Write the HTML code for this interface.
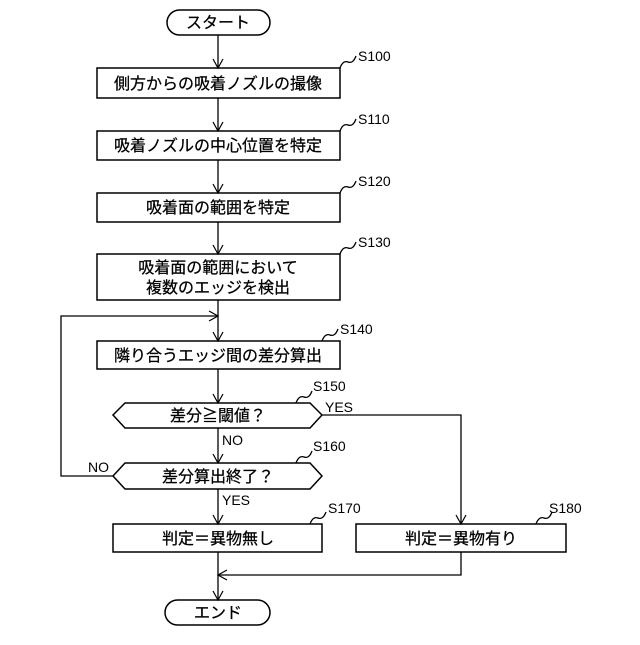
<!DOCTYPE html><html><head><meta charset="utf-8"><style>body{margin:0;background:#fff}svg text{font-family:"Liberation Sans","Noto Sans CJK JP",sans-serif;fill:#000}</style></head><body>
<svg width="640" height="640" viewBox="0 0 640 640" xmlns="http://www.w3.org/2000/svg">
<defs><marker id="a" markerWidth="12" markerHeight="12" refX="10" refY="6" orient="auto" markerUnits="userSpaceOnUse"><path d="M1,1 L10,6 L1,11" fill="none" stroke="#000" stroke-width="1.2"/></marker></defs>
<g fill="none" stroke="#000" stroke-width="1.5">
<rect x="167" y="10" width="103" height="25" rx="12.5"/>
<rect x="97" y="68" width="243" height="30"/>
<rect x="97" y="131" width="243" height="29"/>
<rect x="97" y="193" width="243" height="29"/>
<rect x="97" y="254" width="243" height="46"/>
<rect x="97" y="341" width="243" height="28"/>
<path d="M125,403 L310,403 L322,415 L310,428 L125,428 L113,415 Z"/>
<path d="M125,463 L310,463 L322,476 L310,489 L125,489 L113,476 Z"/>
<rect x="113" y="524" width="209" height="28"/>
<rect x="356" y="524" width="210" height="28"/>
<rect x="165" y="600" width="105" height="25" rx="12.5"/>
</g>
<g stroke="#000" stroke-width="1.3" fill="none">
<line x1="218" y1="35" x2="218" y2="68" marker-end="url(#a)"/>
<line x1="218" y1="98" x2="218" y2="131" marker-end="url(#a)"/>
<line x1="218" y1="160" x2="218" y2="193" marker-end="url(#a)"/>
<line x1="218" y1="222" x2="218" y2="254" marker-end="url(#a)"/>
<line x1="218" y1="300" x2="218" y2="341" marker-end="url(#a)"/>
<line x1="218" y1="369" x2="218" y2="403" marker-end="url(#a)"/>
<line x1="218" y1="428" x2="218" y2="463" marker-end="url(#a)"/>
<line x1="218" y1="489" x2="218" y2="524" marker-end="url(#a)"/>
<line x1="218" y1="552" x2="218" y2="600" marker-end="url(#a)"/>
<path d="M113,476 L61,476 L61,316 L218,316" marker-end="url(#a)"/>
<path d="M322,415 L461,415 L461,524" marker-end="url(#a)"/>
<path d="M461,552 L461,575 L218,575" marker-end="url(#a)"/>
<path d="M340,68 q3,-8 8,-6 t8,-6"/>
<path d="M340,131 q3,-8 8,-6 t8,-6"/>
<path d="M340,193 q3,-8 8,-6 t8,-6"/>
<path d="M340,254 q3,-8 8,-6 t8,-6"/>
<path d="M322,341 q3,-8 8,-6 t8,-6"/>
<path d="M296,403 q3,-8 8,-6 t8,-6"/>
<path d="M296,463 q3,-8 8,-6 t8,-6"/>
<path d="M310,524 q3,-8 8,-6 t8,-6"/>
<path d="M536,524 q3,-8 8,-6 t8,-6"/>
</g>
<g font-size="16" text-anchor="middle" stroke="#000" stroke-width="0.25">
<text x="218" y="28">スタート</text>
<text x="218" y="89">側方からの吸着ノズルの撮像</text>
<text x="218" y="151">吸着ノズルの中心位置を特定</text>
<text x="218" y="213">吸着面の範囲を特定</text>
<text x="218" y="273">吸着面の範囲において</text>
<text x="218" y="293">複数のエッジを検出</text>
<text x="218" y="361">隣り合うエッジ間の差分算出</text>
<text x="218" y="421">差分≧閾値？</text>
<text x="218" y="482">差分算出終了？</text>
<text x="218" y="544">判定＝異物無し</text>
<text x="461" y="544">判定＝異物有り</text>
<text x="218" y="618">エンド</text>
</g>
<g font-size="14">
<text x="358" y="61">S100</text>
<text x="358" y="124">S110</text>
<text x="358" y="186">S120</text>
<text x="358" y="247">S130</text>
<text x="340" y="334">S140</text>
<text x="313" y="391">S150</text>
<text x="313" y="451">S160</text>
<text x="328" y="513">S170</text>
<text x="549" y="513">S180</text>
<text x="325" y="412">YES</text>
<text x="222" y="445">NO</text>
<text x="88" y="472">NO</text>
<text x="222" y="505">YES</text>
</g>
</svg></body></html>
